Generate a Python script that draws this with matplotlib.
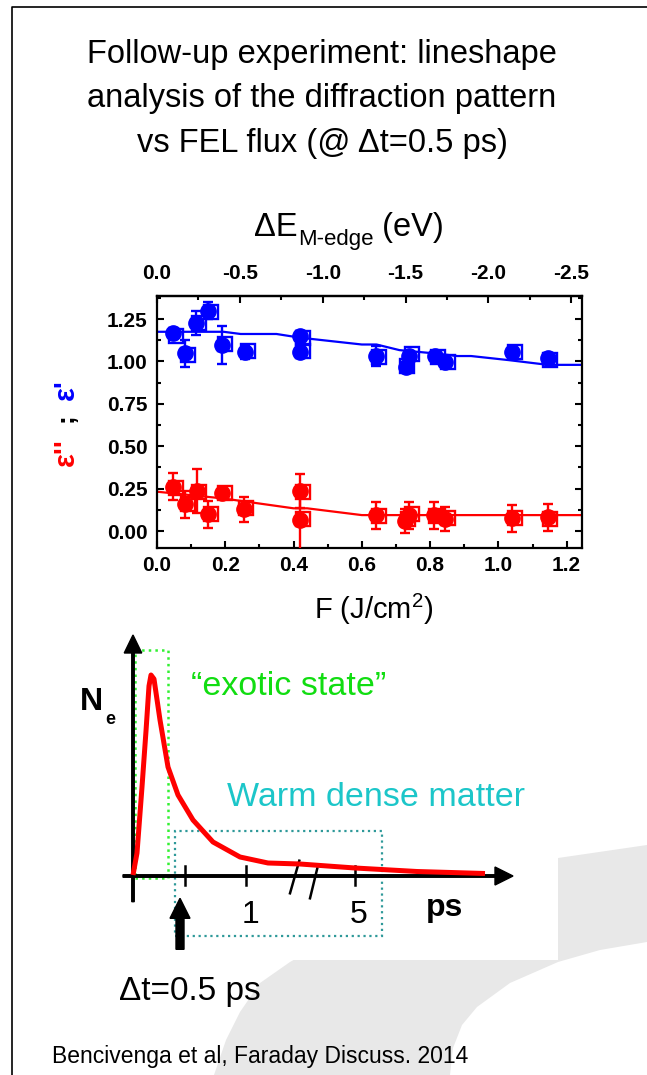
import matplotlib
matplotlib.use('Agg')
import matplotlib.pyplot as plt
from matplotlib.patches import Rectangle, Polygon, FancyArrow
from matplotlib.ticker import MultipleLocator

plt.rcParams['font.family'] = ['Liberation Sans', 'DejaVu Sans']
plt.rcParams['axes.unicode_minus'] = False
plt.rcParams['mathtext.fontset'] = 'custom'
plt.rcParams['mathtext.rm'] = 'Liberation Sans'

# ---- measured data: eps' (blue) and eps'' (red) vs FEL fluence F (J/cm^2)
F_blue = [0.048, 0.082, 0.114, 0.150, 0.189, 0.258, 0.420, 0.420, 0.643, 0.729, 0.738, 0.814, 0.843, 1.041, 1.145]
eps1 = [1.165, 1.048, 1.228, 1.300, 1.097, 1.054, 1.150, 1.057, 1.032, 0.965, 1.032, 1.032, 0.995, 1.057, 1.018]
eps1_err = [0.03, 0.08, 0.07, 0.05, 0.11, 0.04, 0.03, 0.03, 0.06, 0.03, 0.03, 0.03, 0.02, 0.03, 0.03]
F_blue_sq = [0.056, 0.090, 0.122, 0.158, 0.200, 0.266, 0.428, 0.428, 0.651, 0.733, 0.748, 0.822, 0.851, 1.049, 1.151]
eps1_sq = [1.150, 1.040, 1.225, 1.290, 1.102, 1.060, 1.140, 1.060, 1.025, 0.975, 1.045, 1.025, 0.995, 1.055, 1.010]

F_red = [0.048, 0.082, 0.116, 0.150, 0.189, 0.256, 0.420, 0.420, 0.643, 0.727, 0.738, 0.810, 0.843, 1.041, 1.145]
eps2 = [0.261, 0.159, 0.238, 0.098, 0.226, 0.128, 0.238, 0.065, 0.094, 0.060, 0.094, 0.094, 0.069, 0.075, 0.080]
eps2_err = [0.08, 0.08, 0.13, 0.08, 0.02, 0.075, 0.10, 0.20, 0.08, 0.07, 0.08, 0.08, 0.07, 0.08, 0.08]
F_red_sq = [0.056, 0.090, 0.124, 0.158, 0.198, 0.262, 0.428, 0.428, 0.651, 0.735, 0.746, 0.818, 0.851, 1.049, 1.151]
eps2_sq = [0.255, 0.160, 0.230, 0.100, 0.225, 0.135, 0.230, 0.070, 0.090, 0.070, 0.098, 0.090, 0.075, 0.078, 0.072]

# model curves
fit_F_blue = [0.0, 0.195, 0.245, 0.35, 0.42, 0.60, 0.643, 0.71, 0.81, 0.88, 0.92, 1.03, 1.145, 1.25]
fit_blue = [1.175, 1.175, 1.162, 1.162, 1.14, 1.10, 1.10, 1.067, 1.048, 1.032, 1.032, 1.008, 0.98, 0.98]
fit_F_red = [0.0, 0.195, 0.40, 0.44, 0.60, 1.25]
fit_red = [0.232, 0.192, 0.134, 0.134, 0.094, 0.094]

F_ticks = [0.0, 0.2, 0.4, 0.6, 0.8, 1.0, 1.2]
F_labels = ['0.0', '0.2', '0.4', '0.6', '0.8', '1.0', '1.2']
eps_ticks = [0.0, 0.25, 0.5, 0.75, 1.0, 1.25]
eps_labels = ['0.00', '0.25', '0.50', '0.75', '1.00', '1.25']
dE_ticks = [0.0, -0.5, -1.0, -1.5, -2.0, -2.5]
dE_labels = ['0.0', '-0.5', '-1.0', '-1.5', '-2.0', '-2.5']
eV_per_F = 2.06

# ---- schematic: N_e vs time (arbitrary units, broken time axis)
ne_t = [0.00, 0.04, 0.09, 0.13, 0.16, 0.18, 0.21, 0.27, 0.35, 0.45, 0.60, 0.80, 1.07, 1.35, 1.67, 2.22, 2.84, 3.52]
ne_n = [0.01, 0.23, 0.89, 1.45, 1.90, 2.01, 1.97, 1.56, 1.09, 0.81, 0.56, 0.34, 0.19, 0.13, 0.12, 0.08, 0.045, 0.025]
sch_ticks = [0.52, 1.13, 2.22]
sch_labels = {1.13: '1', 2.22: '5'}

# background swoosh outline (pixels)
swoosh_outer = [(214, 1075), (226, 1040), (240, 1012), (260, 983), (290, 962), (350, 928), (420, 897),
                (490, 874), (558, 858), (647, 845)]
swoosh_inner = [(647, 942), (600, 950), (558, 962), (510, 983), (477, 1007), (462, 1025), (453, 1048), (450, 1075)]

W, H = 647, 1075
fig = plt.figure(figsize=(W / 100, H / 100), dpi=100)


def box(x0, y0, x1, y1):
    return [x0 / W, 1 - y1 / H, (x1 - x0) / W, (y1 - y0) / H]


bg = fig.add_axes([0, 0, 1, 1], zorder=0)
bg.set_xlim(0, W)
bg.set_ylim(H, 0)
bg.axis('off')
bg.add_patch(Polygon(swoosh_outer + swoosh_inner, closed=True, facecolor='#e8e8e8', edgecolor='none'))
bg.add_patch(Rectangle((0, 0), 558, 960, facecolor='white', edgecolor='none'))
bg.plot([11.5, 11.5, W], [H, 7, 7], color='black', lw=1.2)

bg.text(322, 99, 'Follow-up experiment: lineshape\nanalysis of the diffraction pattern\nvs FEL flux (@ \u0394t=0.5 ps)',
        ha='center', va='center', fontsize=23.5, linespacing=1.55)
bg.text(52, 1057, 'Bencivenga et al, Faraday Discuss. 2014', ha='left', va='center', fontsize=16.5)

# top axis label built from pieces (subscript with a real hyphen)
r = fig.canvas.get_renderer()
parts = [bg.text(0, 236, '\u0394E', fontsize=23.5, va='baseline'),
         bg.text(0, 245, 'M-edge', fontsize=16, va='baseline'),
         bg.text(0, 236, ' (eV)', fontsize=23.5, va='baseline')]
widths = [p.get_window_extent(r).width for p in parts]
x = 349 - sum(widths) / 2
for p, w in zip(parts, widths):
    p.set_x(x)
    x += w

# y label: eps'' ; eps'
bg.text(66, 452, "\u03b5''", color='red', fontsize=21, fontweight='bold', rotation=90, ha='center', va='center')
bg.text(66, 418, ';', color='black', fontsize=19, fontweight='bold', rotation=90, ha='center', va='center')
bg.text(66, 390, "\u03b5'", color='blue', fontsize=21, fontweight='bold', rotation=90, ha='center', va='center')

bg.text(374, 609, 'F (J/cm$^2$)', ha='center', va='center', fontsize=21)

bg.text(91.7, 702, 'N', fontsize=23, fontweight='bold', ha='center', va='center')
bg.text(110, 719, 'e', fontsize=13, fontweight='bold', ha='center', va='center')

# ---- main data panel
ax = fig.add_axes(box(157, 296, 582, 548), zorder=2)
ax.set_facecolor('none')
ax.plot(fit_F_blue, fit_blue, color='#0000ff', lw=1.6, zorder=2)
ax.plot(fit_F_red, fit_red, color='#ff0000', lw=1.6, zorder=2)
ax.plot(F_blue_sq, eps1_sq, 's', mfc='none', mec='#0000ff', ms=10, mew=1.7, zorder=3)
ax.plot(F_red_sq, eps2_sq, 's', mfc='none', mec='#ff0000', ms=10, mew=1.7, zorder=3)
ax.errorbar(F_blue, eps1, yerr=eps1_err, fmt='o', color='#0000ff', ms=11, elinewidth=1.7,
            capsize=3.5, capthick=1.7, zorder=4)
ax.errorbar(F_red, eps2, yerr=eps2_err, fmt='o', color='#ff0000', ms=11, elinewidth=1.7,
            capsize=3.5, capthick=1.7, zorder=4)
ax.set_xlim(0, 1.245)
ax.set_ylim(-0.1, 1.386)
ax.set_xticks(F_ticks, labels=F_labels, fontweight='bold', fontsize=15)
ax.set_yticks(eps_ticks, labels=eps_labels, fontweight='bold', fontsize=15)
ax.xaxis.set_minor_locator(MultipleLocator(0.1))
ax.yaxis.set_minor_locator(MultipleLocator(0.125))
ax.tick_params(which='both', direction='in', width=1.5, top=False, right=True)
ax.tick_params(which='major', length=5)
ax.tick_params(which='minor', length=3)
ax.tick_params(axis='x', pad=6)
ax.tick_params(axis='y', pad=7)
for s in ax.spines.values():
    s.set_linewidth(1.6)

sec = ax.secondary_xaxis('top', functions=(lambda f: -eV_per_F * f, lambda e: -e / eV_per_F))
sec.set_xticks(dE_ticks, labels=dE_labels, fontweight='bold', fontsize=15)
sec.xaxis.set_minor_locator(MultipleLocator(0.25))
sec.tick_params(which='both', direction='in', width=1.5, pad=9)
sec.tick_params(which='major', length=5)
sec.tick_params(which='minor', length=3)
sec.spines['top'].set_linewidth(1.6)

# ---- schematic panel (100 px per unit, origin at the axes crossing)
sx = fig.add_axes(box(50, 620, 600, 1010), zorder=1)
sx.set_xlim(-0.83, 4.67)
sx.set_ylim(-1.34, 2.56)
sx.axis('off')
sx.add_patch(Rectangle((0.02, -0.02), 0.333, 2.28, fill=False, ls=':', lw=1.8, edgecolor='#33f033'))
sx.add_patch(Rectangle((0.42, -0.60), 2.067, 1.053, fill=False, ls=':', lw=1.6, edgecolor='#2e9999'))
sx.add_patch(FancyArrow(0, -0.257, 0, 2.667, width=0.025, head_width=0.175, head_length=0.18,
                        length_includes_head=True, color='black'))
sx.add_patch(FancyArrow(-0.10, 0, 3.90, 0, width=0.025, head_width=0.18, head_length=0.18,
                        length_includes_head=True, color='black'))
for t in sch_ticks:
    sx.plot([t, t], [-0.09, 0.10], color='black', lw=1.8)
    if t in sch_labels:
        sx.text(t + 0.04, -0.39, sch_labels[t], fontsize=23, ha='center', va='center')
sx.plot([1.663, 1.57], [0.153, -0.173], color='black', lw=1.8)
sx.plot([1.843, 1.77], [0.077, -0.223], color='black', lw=1.8)
sx.plot(ne_t, ne_n, color='#ff0000', lw=3.6, solid_capstyle='butt', solid_joinstyle='round', zorder=5)
sx.add_patch(FancyArrow(0.47, -0.733, 0, 0.51, width=0.08, head_width=0.20, head_length=0.20,
                        length_includes_head=True, color='black'))
sx.text(3.12, -0.32, 'ps', fontsize=23, fontweight='bold', ha='center', va='center')
sx.text(1.56, 1.893, '\u201cexotic state\u201d', color='#11dd11', fontsize=24.5, ha='center', va='center')
sx.text(2.43, 0.78, 'Warm dense matter', color='#1cc6c9', fontsize=24.5, ha='center', va='center')
sx.text(0.573, -1.157, '\u0394t=0.5 ps', fontsize=24, ha='center', va='center')

fig.savefig('out.png', dpi=100)
